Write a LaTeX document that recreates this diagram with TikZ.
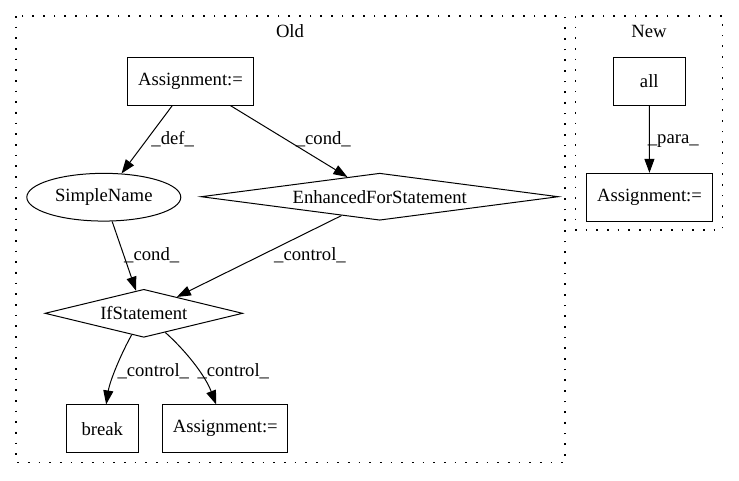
\documentclass[tikz,border=0pt]{standalone}
\usepackage{fontspec}
\setmainfont{Liberation Serif}
\usetikzlibrary{shapes.geometric,arrows.meta}
\begin{document}
\begin{tikzpicture}[x=0.75pt,y=-0.75pt,
  every node/.style={font=\fontsize{14pt}{16pt}\selectfont, inner sep=0pt},
  boxnode/.style={draw, rectangle, line width=0.75pt, minimum height=35.8pt},
  ellnode/.style={draw, ellipse, line width=0.75pt, minimum width=115.5pt, minimum height=35.8pt},
  dianode/.style={draw, diamond, line width=0.75pt},
  edge/.style={draw, line width=0.75pt, -{Triangle[length=10.5pt,width=7.5pt]}},
  cluster/.style={draw, line width=0.8pt, dash pattern=on 1.2pt off 6.8pt},
  elabel/.style={}
]
\useasboundingbox (0,0) rectangle (739,480);
% clusters
\draw[cluster] (16,16) rectangle (565,462.7);
\draw[cluster] (575.7,16) rectangle (722.7,230);
\node (oldlbl) at (290,31) {Old};
\node (newlbl) at (649,31) {New};
% nodes Old
\node[boxnode, minimum width=94.2pt] (a1) at (190.5,81.2) {Assignment:=};
\node[ellnode] (sn) at (103.8,197.2) {SimpleName};
\node[dianode, aspect=7.6, minimum width=268pt, minimum height=35.3pt] (efs) at (379.7,196.7) {EnhancedForStatement};
\node[dianode, aspect=4.1, minimum width=148.3pt, minimum height=36pt] (ifs) at (143.8,313.3) {IfStatement};
\node[boxnode, minimum width=54pt] (brk) at (102.3,428.8) {break};
\node[boxnode, minimum width=94pt] (a2) at (225.3,428.8) {Assignment:=};
% nodes New
\node[boxnode, minimum width=54pt] (all) at (649.3,81.2) {all};
\node[boxnode, minimum width=94.2pt] (a3) at (649.5,197.2) {Assignment:=};
% edges
\draw[edge] (a1) -- (sn);
\draw[edge] (a1) -- (efs);
\draw[edge] (sn) -- (ifs);
\draw[edge] (efs) -- (ifs);
\draw[edge] (ifs) .. controls (122,352) and (110,380) .. (brk);
\draw[edge] (ifs) .. controls (185,350) and (205,375) .. (a2);
\draw[edge] (all) -- (a3);
% labels
\node[elabel] (l1) at (172.7,139.3) {\_def\_};
\node[elabel] (l2) at (323.3,139.3) {\_cond\_};
\node[elabel] (l3) at (151.7,255) {\_cond\_};
\node[elabel] (l4) at (310,255) {\_control\_};
\node[elabel] (l5) at (153.3,371) {\_control\_};
\node[elabel] (l6) at (233.3,371) {\_control\_};
\node[elabel] (l7) at (673.3,140.7) {\_para\_};
\end{tikzpicture}
\end{document}
